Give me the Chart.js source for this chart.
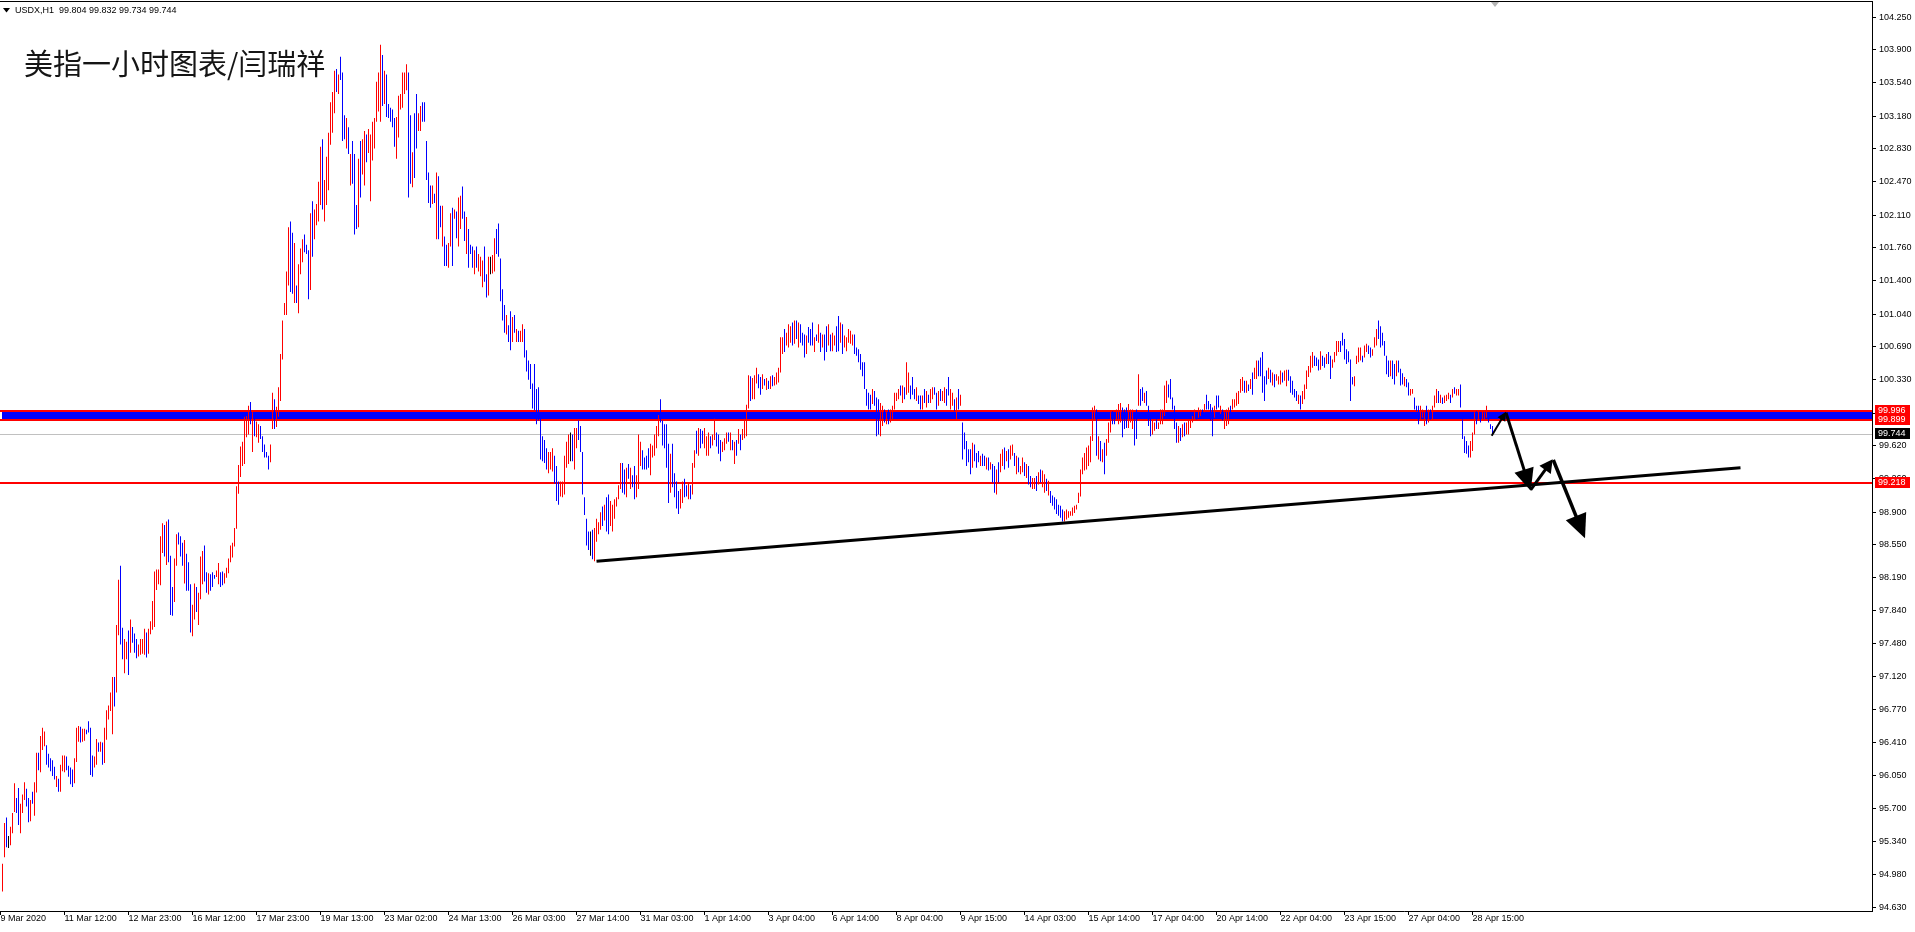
<!DOCTYPE html>
<html lang="zh">
<head>
<meta charset="UTF-8">
<title>USDX,H1</title>
<script src="https://cdn.jsdelivr.net/npm/chart.js"></script>
<style>
  html, body { margin: 0; padding: 0; background: #fff; overflow: hidden; }
  #wrap { width: 1915px; height: 932px; position: relative; }
</style>
</head>
<body>
<div id="wrap"><canvas id="myChart"></canvas></div>
<script>
const titleText = '美指一小时图表/闫瑞祥';
const headerText = 'USDX,H1  99.804 99.832 99.734 99.744';

// hourly bars (high / low / R=up B=down K=doji)
const barHigh = [
  95.10,95.54,95.60,95.40,95.50,95.65,95.97,95.81,95.92,95.75,95.85,95.98,95.91,95.81,95.79,95.88,95.98,96.30,96.30,96.48,
  96.57,96.53,96.38,96.29,96.24,96.22,96.15,96.05,96.02,96.17,96.27,96.27,96.26,96.16,96.14,96.12,96.24,96.57,96.59,96.58,
  96.56,96.56,96.55,96.64,96.57,96.27,96.26,96.45,96.41,96.42,96.41,96.57,96.76,96.81,96.95,97.12,97.12,97.68,98.17,98.32,
  97.65,97.53,97.50,97.62,97.74,97.66,97.59,97.53,97.47,97.53,97.53,97.64,97.60,97.64,97.72,97.94,98.26,98.28,98.28,98.64,
  98.78,98.76,98.80,98.82,98.43,98.09,98.40,98.66,98.68,98.64,98.57,98.60,98.45,98.36,98.12,97.90,98.13,98.09,98.03,98.42,
  98.48,98.54,98.25,98.24,98.23,98.25,98.22,98.27,98.35,98.25,98.26,98.24,98.30,98.40,98.54,98.57,98.73,99.18,99.41,99.61,
  99.66,99.93,99.94,100.05,100.09,99.98,99.98,99.88,99.85,99.83,99.72,99.63,99.55,99.51,99.63,
  100.19,100.12,100.04,100.25,100.61,100.97,101.16,101.50,101.98,102.04,101.92,101.81,101.35,101.58,101.75,101.85,101.90,101.79,101.73,102.13,
  102.26,102.17,102.23,102.47,102.85,102.93,102.49,102.74,103.00,103.33,103.44,103.67,103.69,103.63,103.82,103.65,103.19,103.16,103.06,102.77,
  102.91,102.77,102.22,102.72,102.91,102.93,103.02,102.98,103.04,102.98,103.12,103.16,103.55,103.65,103.95,103.84,103.67,103.63,103.31,103.27,
  103.25,103.16,103.17,103.40,103.42,103.65,103.65,103.74,103.65,103.19,102.79,103.21,103.42,103.21,103.29,103.33,103.33,102.91,102.57,102.43,
  102.43,102.34,102.57,102.53,102.21,102.21,101.88,101.79,101.81,102.13,102.19,102.17,102.15,102.30,102.32,102.42,102.15,102.09,101.96,101.79,
  101.77,101.73,101.77,101.69,101.66,101.62,101.77,101.47,101.66,101.66,101.68,101.86,101.96,102.02,101.64,101.31,101.14,101.03,100.92,101.07,
  101.01,101.03,100.88,100.86,100.86,100.93,100.88,100.65,100.54,100.50,100.29,100.50,100.23,100.25,99.91,99.72,99.68,99.59,99.55,99.55,
  99.59,99.51,99.40,99.23,99.23,99.23,99.51,99.66,99.74,99.76,99.74,99.81,99.81,99.89,99.83,99.55,99.06,98.83,98.69,98.69,
  98.71,98.73,98.83,98.79,98.90,98.96,98.98,99.06,99.09,99.02,98.98,99.04,99.06,99.19,99.43,99.43,99.36,99.38,99.42,99.38,
  99.30,99.40,99.30,99.74,99.66,99.57,99.49,99.51,99.59,99.64,99.62,99.74,99.83,99.95,100.12,99.89,99.85,99.85,99.64,99.53,
  99.64,99.32,99.23,99.13,99.15,99.23,99.26,99.19,99.21,99.19,99.43,99.57,99.78,99.81,99.80,99.78,99.81,99.72,99.76,99.72,
  99.74,99.91,99.76,99.74,99.68,99.66,99.70,99.76,99.76,99.76,99.68,99.66,99.68,99.80,99.74,99.80,99.91,100.06,100.38,100.37,100.35,100.38,100.46,
  100.39,100.36,100.39,100.34,100.35,100.32,100.37,100.38,100.36,100.41,100.46,100.79,100.79,100.88,100.84,100.93,100.91,100.95,100.97,100.97,
  100.95,100.93,100.84,100.82,100.81,100.90,100.88,100.95,100.79,100.82,100.93,100.84,100.82,100.82,100.91,100.93,100.82,100.84,100.81,100.91,
  101.02,100.95,100.93,100.81,100.79,100.88,100.86,100.82,100.82,100.68,100.66,100.61,100.52,100.52,100.23,100.19,100.17,100.23,100.21,100.14,
  100.12,100.08,100.05,100.01,99.98,100.01,100.01,100.05,100.19,100.19,100.23,100.27,100.27,100.25,100.52,100.41,100.27,100.36,100.23,100.25,
  100.16,100.16,100.16,100.23,100.21,100.17,100.23,100.25,100.25,100.19,100.21,100.23,100.21,100.25,100.23,100.36,100.23,100.19,100.12,100.14,
  100.23,100.17,99.87,99.76,99.67,99.58,99.58,99.65,99.63,99.54,99.56,99.51,99.53,99.51,99.49,99.49,99.44,99.42,99.40,99.36,
  99.44,99.53,99.58,99.60,99.56,99.58,99.62,99.63,99.54,99.51,99.49,99.40,99.49,99.44,99.42,99.40,99.29,99.27,99.27,99.29,
  99.33,99.36,99.35,99.31,99.26,99.24,99.13,99.08,99.06,99.04,98.98,98.97,98.93,98.91,98.93,98.91,98.91,98.95,98.97,98.98,
  99.11,99.36,99.49,99.54,99.60,99.62,99.72,100.03,100.05,100.01,99.72,99.67,99.58,99.65,99.69,99.87,99.98,99.99,99.98,100.01,
  100.07,100.08,100.03,100.01,100.03,100.07,100.01,100.01,99.90,100.01,100.39,100.23,100.25,100.19,100.21,100.05,99.98,99.89,99.87,99.90,
  99.87,100.01,100.01,100.27,100.32,100.28,100.34,100.14,100.05,99.87,99.83,99.81,99.85,99.87,99.87,99.89,99.90,99.94,100.01,99.98,
  100.03,100.01,100.01,100.07,100.17,100.10,100.07,100.03,100.05,100.16,100.16,100.05,100.01,99.98,100.01,100.03,100.05,100.12,100.12,100.19,
  100.21,100.34,100.36,100.32,100.32,100.28,100.34,100.41,100.46,100.54,100.54,100.57,100.63,100.37,100.43,100.46,100.44,100.41,100.39,100.39,
  100.37,100.43,100.41,100.43,100.44,100.44,100.37,100.32,100.23,100.21,100.17,100.16,100.21,100.28,100.43,100.48,100.59,100.63,100.59,100.57,
  100.55,100.64,100.59,100.57,100.61,100.63,100.59,100.55,100.63,100.75,100.75,100.75,100.84,100.77,100.66,100.64,100.55,100.36,100.37,100.59,
  100.68,100.68,100.59,100.70,100.72,100.70,100.68,100.66,100.79,100.88,100.97,100.91,100.84,100.75,100.59,100.54,100.54,100.54,100.50,100.54,
  100.54,100.45,100.40,100.36,100.34,100.30,100.23,100.23,100.14,100.05,100.05,100.05,100.01,99.99,100.05,100.01,100.01,100.05,100.16,100.23,
  100.21,100.17,100.14,100.16,100.17,100.19,100.17,100.23,100.25,100.23,100.23,100.28,99.90,99.72,99.67,99.62,99.67,99.76,99.98,99.99,
  99.99,99.94,99.99,99.98,100.05,99.94,99.85,99.83
];
const barLow = [
  94.80,95.17,95.28,95.27,95.30,95.43,95.66,95.65,95.52,95.43,95.65,95.79,95.72,95.55,95.56,95.75,95.62,95.87,96.11,96.09,
  96.33,96.37,96.17,96.14,96.10,96.05,96.01,95.93,95.88,95.88,96.10,96.09,96.11,96.04,95.96,95.93,95.97,96.20,96.42,96.41,
  96.42,96.43,96.50,96.52,96.06,96.04,96.14,96.17,96.31,96.31,96.17,96.19,96.44,96.66,96.75,96.50,96.80,96.95,97.57,97.47,
  97.31,97.16,97.31,97.14,97.38,97.49,97.38,97.32,97.34,97.36,97.37,97.36,97.33,97.37,97.58,97.63,97.66,98.06,98.12,98.11,
  98.46,98.42,98.33,98.36,97.79,97.78,97.93,98.32,98.55,98.42,98.32,98.13,98.05,98.05,97.60,97.56,97.74,97.82,97.68,97.96,
  98.12,98.15,98.03,98.01,98.05,98.09,98.18,98.20,98.12,98.09,98.11,98.13,98.19,98.24,98.36,98.41,98.53,98.72,99.10,99.28,
  99.40,99.42,99.71,99.74,99.85,99.55,99.72,99.71,99.65,99.69,99.55,99.49,99.49,99.36,99.44,
  99.80,99.80,99.82,99.93,100.10,100.55,101.03,101.03,101.35,101.28,101.26,101.16,101.16,101.05,101.47,101.60,101.71,101.69,101.20,101.30,
  101.66,101.85,102.00,102.04,102.22,102.17,102.04,102.22,102.38,102.87,103.00,103.21,103.44,103.42,103.57,102.91,102.93,102.83,102.77,102.43,
  102.45,101.90,101.96,101.98,102.30,102.55,102.43,102.68,102.78,102.26,102.70,102.83,103.12,103.23,103.12,103.29,103.31,103.17,103.16,103.12,
  103.06,102.85,102.72,102.95,103.25,103.27,103.42,103.46,102.30,102.45,102.41,102.51,102.83,103.02,103.02,103.12,103.12,102.49,102.24,102.19,
  102.23,102.24,101.85,101.85,101.98,101.77,101.56,101.56,101.54,101.77,101.56,102.07,101.86,101.77,101.96,102.07,101.83,101.69,101.54,101.69,
  101.54,101.47,101.54,101.50,101.45,101.33,101.39,101.22,101.24,101.47,101.48,101.50,101.69,101.66,101.18,100.97,100.84,100.82,100.74,100.65,
  100.74,100.84,100.74,100.74,100.74,100.74,100.57,100.42,100.33,100.23,100.02,100.00,99.85,99.89,99.47,99.45,99.43,99.36,99.32,99.36,
  99.34,99.21,99.02,98.98,99.07,99.06,99.09,99.38,99.42,99.45,99.45,99.36,99.59,99.68,99.55,99.09,98.87,98.54,98.49,98.43,
  98.39,98.37,98.58,98.66,98.71,98.75,98.81,98.69,98.66,98.75,98.69,98.83,98.96,99.04,99.15,99.11,99.09,99.06,99.26,99.15,
  99.17,99.04,99.06,99.15,99.40,99.36,99.36,99.36,99.38,99.30,99.49,99.51,99.59,99.72,99.87,99.62,99.59,99.38,99.00,99.11,
  99.17,99.06,98.94,98.88,98.94,99.00,99.06,99.07,99.04,99.04,99.09,99.38,99.53,99.51,99.59,99.64,99.59,99.51,99.51,99.59,
  99.62,99.68,99.61,99.53,99.45,99.55,99.57,99.64,99.66,99.57,99.57,99.42,99.51,99.64,99.57,99.68,99.70,99.72,100.02,100.10,100.12,100.12,100.29,
  100.24,100.17,100.23,100.27,100.22,100.23,100.23,100.26,100.27,100.28,100.30,100.41,100.61,100.63,100.70,100.68,100.73,100.70,100.72,100.77,
  100.68,100.73,100.70,100.57,100.61,100.73,100.70,100.70,100.63,100.75,100.73,100.63,100.68,100.54,100.63,100.70,100.64,100.64,100.70,100.63,
  100.64,100.73,100.61,100.68,100.64,100.73,100.72,100.70,100.61,100.59,100.52,100.44,100.37,100.23,100.05,100.01,100.01,100.07,100.05,99.72,
  99.74,99.72,99.83,99.87,99.85,99.85,99.87,99.89,100.01,100.10,100.12,100.16,100.08,100.12,100.17,100.19,100.12,100.17,100.12,100.10,
  100.07,100.01,100.01,100.08,100.03,100.08,100.08,100.12,100.17,100.01,100.05,100.10,100.10,100.08,100.05,100.16,100.01,100.05,99.99,99.90,
  100.01,100.05,99.47,99.58,99.40,99.44,99.31,99.38,99.45,99.38,99.44,99.40,99.40,99.40,99.36,99.35,99.36,99.22,99.11,99.09,
  99.22,99.33,99.40,99.36,99.45,99.38,99.47,99.51,99.40,99.31,99.33,99.31,99.33,99.29,99.27,99.20,99.17,99.15,99.15,99.13,
  99.20,99.22,99.17,99.11,99.13,99.08,99.00,98.97,98.93,98.88,98.86,98.84,98.80,98.80,98.82,98.84,98.86,98.86,98.89,98.93,
  99.00,99.07,99.31,99.35,99.36,99.40,99.44,99.67,99.90,99.51,99.47,99.45,99.44,99.31,99.51,99.65,99.76,99.85,99.85,99.89,
  99.85,99.87,99.71,99.80,99.81,99.81,99.87,99.80,99.62,99.69,100.05,100.05,100.10,100.08,100.05,99.83,99.72,99.74,99.78,99.80,
  99.80,99.85,99.85,99.94,100.08,100.14,100.12,100.01,99.80,99.65,99.65,99.67,99.71,99.72,99.74,99.74,99.81,99.87,99.90,99.90,
  99.92,99.94,99.94,99.98,100.01,100.01,99.89,99.72,99.92,100.01,100.03,99.96,99.89,99.80,99.83,99.85,99.94,100.01,100.03,100.05,
  100.07,100.19,100.21,100.19,100.19,100.21,100.23,100.17,100.34,100.34,100.37,100.37,100.19,100.10,100.28,100.34,100.30,100.27,100.25,100.32,
  100.28,100.28,100.30,100.32,100.26,100.32,100.19,100.17,100.14,100.10,100.07,100.01,100.07,100.12,100.23,100.36,100.41,100.46,100.48,100.48,
  100.43,100.44,100.48,100.46,100.50,100.50,100.34,100.46,100.52,100.59,100.63,100.63,100.70,100.55,100.50,100.52,100.10,100.28,100.26,100.50,
  100.52,100.54,100.52,100.57,100.63,100.61,100.57,100.59,100.68,100.70,100.77,100.68,100.70,100.59,100.39,100.36,100.37,100.34,100.28,100.37,
  100.41,100.27,100.28,100.26,100.25,100.16,100.16,100.18,100.01,99.99,99.85,99.90,99.92,99.83,99.85,99.87,99.90,99.90,100.03,100.08,
  100.08,100.08,100.07,100.08,100.10,100.12,100.08,100.14,100.18,100.16,100.16,100.03,99.69,99.54,99.53,99.49,99.49,99.56,99.74,99.85,
  99.89,99.87,99.90,99.89,99.92,99.87,99.80,99.74
];
const barDir = (
  'RRBKRRRBBRRRBBRBRRBR' + 'RRBBBBBRBRRRBBBBRRRB' + 'RRBBBBRRBRBRRRRRBRRB' + 'BRRBRBBBRRRRBRRRRRRR' +
  'RBRBBBRRBBBRBBBRRBRR' + 'RBBRBBBRRBBRRRRRRRRR' + 'RRRRBRBRRBBBBBR' +
  'RBRRRRRRRBBRBRRRBBBR' + 'BRRRRBRRRRRRBRBBBRBR' + 'BBBRBRRBRRRRRRRBRBBB' + 'BBRRRRRRBBRBBRRBBBBB' +
  'RBRBBRBBRRBRBRRBBRBB' + 'BRBRRRBBRKRRBBBBBRBB' + 'RBRBRRBBBBBBBBBBBBRR' + 'RBBBRRRRRKBRRBBBBBBK' +
  'BRRRRBRBBRRRRRRBBRBR' + 'BBRRRBBBBRRRRRBBBBBR' + 'BBBBRRBBRBRRBRBBRRRB' + 'RRBBBRRRBRBRBRBRRRRBRRR' +
  'BBRBRBRBRRRRRBRRRBRB' + 'RBBBRBBBRBRBRBBRBRRB' + 'BRBRRRRRBBBBBBBBBRBB' + 'BRRBRBRRRRRBRBRRBBBR' +
  'BBRBRBRRBBRBRRBBRRBR' + 'BRBBBBBRBBBRBBRBRBBR' + 'BRRBRBRRBRBRRBRBBRRB' + 'RBRRBRBBBBBBBRRRRRRR' +
  'RRRRRRRRRBRBRBRRRBBR' + 'RRBBBRRRBBRBBRBBBRRB' + 'RRRRRBBBBBRBRBRRRRRB' + 'RRBRBBBBRBBRBRRRBRRR' +
  'RRRBRBRBRRBBBBBRBRBR' + 'RRBRRBBBBBRBRRRRRRBB' + 'BRBBRBBRRRRBBBBBBBRR' + 'RRBRRBBRRRBBBBBBRBBR' +
  'BBBRBBRRBBBRRRBRBRRR' + 'BRBRRRBRBRRBBBBBRRRB' + 'RBRRRBBB'
).split('');

const yTicks = [104.25, 103.90, 103.54, 103.18, 102.83, 102.47, 102.11, 101.76, 101.40, 101.04, 100.69, 100.33, 99.97, 99.62,
  99.26, 98.90, 98.55, 98.19, 97.84, 97.48, 97.12, 96.77, 96.41, 96.05, 95.70, 95.34, 94.98, 94.63];
const xTickBars = [-1, 31, 63, 95, 127, 159, 191, 223, 255, 287, 319, 351, 383, 415, 447, 479, 511, 543, 575, 607, 639, 671, 703, 735];
const xTickText = ['9 Mar 2020', '11 Mar 12:00', '12 Mar 23:00', '16 Mar 12:00', '17 Mar 23:00', '19 Mar 13:00', '23 Mar 02:00',
  '24 Mar 13:00', '26 Mar 03:00', '27 Mar 14:00', '31 Mar 03:00', '1 Apr 14:00', '3 Apr 04:00', '6 Apr 14:00', '8 Apr 04:00',
  '9 Apr 15:00', '14 Apr 03:00', '15 Apr 14:00', '17 Apr 04:00', '20 Apr 14:00', '22 Apr 04:00', '23 Apr 15:00', '27 Apr 04:00', '28 Apr 15:00'];

const zoneTop = 99.996;
const zoneBottom = 99.899;
const bidLevel = 99.744;
const supportLevel = 99.218;
const trendFrom = [297, 98.37];
const trendTo = [869, 99.38];
const arrowFrom = [[744.6, 99.726], [751.75, 99.975], [764.1, 99.14], [775.4, 99.464]];
const arrowTo = [[751.75, 99.985], [764.1, 99.132], [775.1, 99.471], [791.25, 98.617]];

const n = Math.min(barHigh.length, barLow.length, barDir.length);
const bars = [];
for (let i = 0; i < n; i++) bars.push({ x: i, y: [barLow[i], barHigh[i]] });
const barColors = barDir.slice(0, n).map(d => d === 'R' ? '#ff0000' : (d === 'B' ? '#0000ff' : '#000000'));

function drawArrow(ctx, x1, y1, x2, y2, shaft, headLen, headHalf) {
  const dx = x2 - x1, dy = y2 - y1, len = Math.hypot(dx, dy);
  const ux = dx / len, uy = dy / len;
  const bx = x2 - ux * headLen, by = y2 - uy * headLen;
  ctx.lineWidth = shaft;
  ctx.beginPath();
  ctx.moveTo(x1, y1);
  ctx.lineTo(bx + ux * 2, by + uy * 2);
  ctx.stroke();
  ctx.beginPath();
  ctx.moveTo(x2, y2);
  ctx.lineTo(bx - uy * headHalf, by + ux * headHalf);
  ctx.lineTo(bx + uy * headHalf, by - ux * headHalf);
  ctx.closePath();
  ctx.fill();
}

const mt4Overlay = {
  id: 'mt4Overlay',
  beforeDatasetsDraw(chart) {
    const { ctx, chartArea: a, scales: { y } } = chart;
    ctx.save();
    const yt = Math.round(y.getPixelForValue(zoneTop));
    const yb = Math.round(y.getPixelForValue(zoneBottom));
    ctx.fillStyle = '#0000ff';
    ctx.fillRect(2, yt, a.right - 2, yb - yt);
    ctx.fillStyle = '#c0c0c0';
    ctx.fillRect(0, Math.round(y.getPixelForValue(bidLevel)), a.right, 1);
    ctx.fillStyle = '#ff0000';
    ctx.fillRect(0, yt - 1, a.right, 2);
    ctx.fillRect(0, yb - 1, a.right, 2);
    ctx.fillRect(0, Math.round(y.getPixelForValue(supportLevel)) - 1, a.right, 2);
    ctx.restore();
  },
  afterDatasetsDraw(chart) {
    const { ctx, scales: { x, y } } = chart;
    ctx.save();
    ctx.strokeStyle = '#000';
    ctx.fillStyle = '#000';
    ctx.lineWidth = 3;
    ctx.beginPath();
    ctx.moveTo(x.getPixelForValue(trendFrom[0]), y.getPixelForValue(trendFrom[1]));
    ctx.lineTo(x.getPixelForValue(trendTo[0]), y.getPixelForValue(trendTo[1]));
    ctx.stroke();
    const arrowStyle = [[2, 9, 4.5], [3, 22, 10], [3, 13, 7], [3.5, 24, 11]];
    arrowFrom.forEach((f, i) => {
      const t = arrowTo[i], s = arrowStyle[i];
      drawArrow(ctx, x.getPixelForValue(f[0]), y.getPixelForValue(f[1]),
        x.getPixelForValue(t[0]), y.getPixelForValue(t[1]), s[0], s[1], s[2]);
    });
    ctx.restore();
  },
  afterDraw(chart) {
    const { ctx, chartArea: a, scales: { x, y } } = chart;
    ctx.save();
    // frame top
    ctx.fillStyle = '#000';
    ctx.fillRect(0, 1, a.right + 1, 1);
    // price tags on the axis
    ctx.font = '9px "Liberation Sans", Arial, sans-serif';
    ctx.textBaseline = 'middle';
    ctx.textAlign = 'left';
    [[zoneTop, '#ff0000'], [zoneBottom, '#ff0000'], [bidLevel, '#000000'], [supportLevel, '#ff0000']].forEach(([v, c]) => {
      const yy = Math.round(y.getPixelForValue(v));
      ctx.fillStyle = c;
      ctx.fillRect(a.right + 3, yy - 6, 35, 11);
      ctx.fillStyle = '#fff';
      ctx.fillText(v.toFixed(3), a.right + 6, yy - 0.5);
    });
    // chart shift marker
    const sx = Math.round(x.getPixelForValue(n));
    ctx.fillStyle = '#b4b4b4';
    ctx.beginPath();
    ctx.moveTo(sx - 4, 2); ctx.lineTo(sx + 4, 2); ctx.lineTo(sx, 7); ctx.closePath();
    ctx.fill();
    // header
    ctx.fillStyle = '#000';
    ctx.beginPath();
    ctx.moveTo(3, 8); ctx.lineTo(10, 8); ctx.lineTo(6.5, 12.5); ctx.closePath();
    ctx.fill();
    ctx.fillText(headerText, 15, 10.5);
    // title
    ctx.fillStyle = '#151515';
    ctx.font = '29px "Noto Sans CJK SC", sans-serif';
    ctx.fillText(titleText, 24, 64);
    ctx.restore();
  }
};

Chart.defaults.font.family = '"Liberation Sans", Arial, sans-serif';
Chart.defaults.font.size = 9;
Chart.defaults.color = '#000';

new Chart(document.getElementById('myChart'), {
  type: 'bar',
  data: {
    datasets: [{
      data: bars,
      backgroundColor: barColors,
      borderWidth: 0,
      barThickness: 1,
      inflateAmount: 0
    }]
  },
  options: {
    responsive: true,
    maintainAspectRatio: false,
    animation: false,
    devicePixelRatio: 1,
    layout: { padding: { top: 2, left: 0, right: 0, bottom: 0 } },
    plugins: { legend: { display: false }, tooltip: { enabled: false } },
    scales: {
      x: {
        type: 'linear',
        min: -1.25,
        max: 934.75,
        bounds: 'data',
        offset: false,
        afterBuildTicks: s => { s.ticks = xTickBars.map(v => ({ value: v })); },
        afterFit: s => { s.height = 21; s.paddingLeft = 0; s.paddingRight = 0; },
        ticks: {
          autoSkip: false, maxRotation: 0, minRotation: 0, align: 'start', padding: -2,
          color: '#000', font: { size: 9 },
          callback: (v, i) => xTickText[i]
        },
        grid: { drawOnChartArea: false, offset: false, tickLength: 4, color: '#000' },
        border: { color: '#000' }
      },
      y: {
        type: 'linear',
        position: 'right',
        min: 94.59,
        max: 104.413,
        bounds: 'data',
        afterBuildTicks: s => { s.ticks = yTicks.map(v => ({ value: v })); },
        afterFit: s => { s.width = 43; s.paddingTop = 0; s.paddingBottom = 0; },
        ticks: {
          autoSkip: false, padding: 3, color: '#000', font: { size: 9 },
          callback: v => v.toFixed(3)
        },
        grid: { drawOnChartArea: false, tickLength: 4, color: '#000' },
        border: { color: '#000' }
      }
    }
  },
  plugins: [mt4Overlay]
});
</script>
</body>
</html>
